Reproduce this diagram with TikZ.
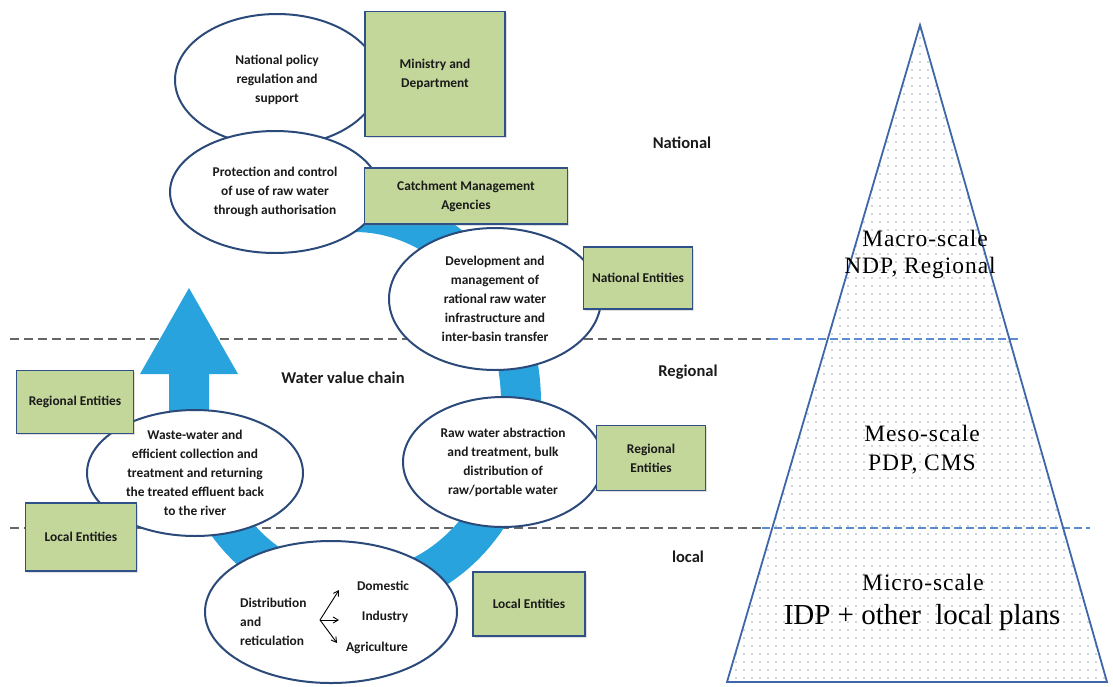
\documentclass[tikz,border=0pt]{standalone}
\usepackage{fontspec}
\setmainfont{Carlito}
\newfontfamily\pyrfont{Liberation Serif}
\newfontfamily\pyrfontwide[LetterSpace=4]{Liberation Serif}
\usetikzlibrary{shapes.geometric,arrows.meta,shadows,patterns}

\definecolor{ringblue}{HTML}{29A3DD}
\definecolor{ellline}{HTML}{2B4A7A}
\definecolor{boxfill}{HTML}{C4D79B}
\definecolor{boxline}{HTML}{2F5088}
\definecolor{dashgray}{HTML}{666666}
\definecolor{pyredge}{HTML}{3E66A8}
\definecolor{pyrdash}{HTML}{5B8BD0}
\definecolor{dotcol}{HTML}{9AA8BA}
\definecolor{inktext}{HTML}{1A1A1A}

% small dot grid for the pyramid
\pgfdeclarepatternformonly{pyrdots}{\pgfqpoint{-1pt}{-1pt}}{\pgfqpoint{1pt}{1pt}}{\pgfqpoint{8pt}{8pt}}{%
  \pgfpathcircle{\pgfqpoint{0pt}{0pt}}{0.8pt}\pgfusepath{fill}}

\begin{document}
\begin{tikzpicture}[x=1pt,y=-1pt,
  stage/.style={ellipse, draw=ellline, line width=2pt, fill=white, inner sep=0pt,
    align=center, text=inktext, font=\bfseries\fontsize{13.4}{19}\selectfont},
  agency/.style={rectangle, draw=boxline, line width=1.7pt, fill=boxfill, inner sep=2pt,
    align=center, text=inktext, font=\bfseries\fontsize{13.4}{19}\selectfont,
    drop shadow={opacity=0.25, shadow xshift=1.5pt, shadow yshift=-1.5pt}},
  levelcap/.style={text=inktext, font=\bfseries\fontsize{16.5}{19}\selectfont},
  plaintext/.style={text=inktext, font=\bfseries\fontsize{13.4}{19}\selectfont, inner sep=0pt},
  scaletext/.style={text=black, font=\pyrfontwide\fontsize{23.5}{26}\selectfont, inner sep=0pt},
  levelline/.style={dashgray, line width=2.4pt, dash pattern=on 9pt off 5pt},
  pyrdashes/.style={pyrdash, line width=1.2pt, dash pattern=on 8pt off 4pt},
  fork/.style={-{Straight Barb[length=5pt,width=6pt]}, line width=0.9pt, black}]

\useasboundingbox (0,0) rectangle (1113,686);
\fill[white] (0,0) rectangle (1113,686);

% level separators on the left
\draw[levelline] (10,339) -- (770,339);
\draw[levelline] (10,528) -- (762,528);

% the water value chain ring ending in the upward arrow
\draw[ringblue, line width=40pt]
  plot[domain=-95:180, samples=120] ({355+166*cos(\x)}, {402+190*sin(\x)}) -- (189,374);
\fill[ringblue] (140,374) -- (238,374) -- (189,288) -- cycle;

% stages of the chain
\node[stage, minimum width=204pt, minimum height=132pt] (policy) at (277,80)
  {National policy\\regulation and\\support};
\node[stage, minimum width=210pt, minimum height=122pt] (protect) at (275,192)
  {Protection and control\\of use of raw water\\through authorisation};
\node[stage, minimum width=212pt, minimum height=142pt] (develop) at (495,299)
  {Development and\\management of\\rational raw water\\infrastructure and\\inter-basin transfer};
\node[stage, minimum width=216pt, minimum height=126pt] (waste) at (195,473)
  {Waste-water and\\efficient collection and\\treatment and returning\\the treated effluent back\\to the river};
\node[stage, minimum width=200pt, minimum height=130pt] (abstract) at (503,462)
  {Raw water abstraction\\and treatment, bulk\\distribution of\\raw/portable water};
\node[stage, minimum width=252pt, minimum height=142pt] (distrib) at (331,612) {};

% contents of the distribution stage
\node[plaintext, align=left, anchor=west] (reticul) at (240,622) {Distribution\\and\\reticulation};
\node[plaintext] (domestic) at (383,586) {Domestic};
\node[plaintext] (industry) at (385,617) {Industry};
\node[plaintext] (agri) at (377,648) {Agriculture};
\coordinate (split) at (320,620);
\coordinate (toDom) at (339,590);
\coordinate (toInd) at (339,620);
\coordinate (toAgr) at (337,643);
\draw[fork] (split) -- (toDom);
\draw[fork] (split) -- (toInd);
\draw[fork] (split) -- (toAgr);

% responsible bodies
\node[agency, minimum width=140pt, minimum height=125pt] (ministry) at (435,74) {Ministry and\\Department};
\node[agency, minimum width=203pt, minimum height=56pt] (cma) at (466,196) {Catchment Management\\Agencies};
\node[agency, minimum width=109pt, minimum height=62pt] (natent) at (638,278) {National Entities};
\node[agency, minimum width=117pt, minimum height=63pt] (regentL) at (75,402) {Regional Entities};
\node[agency, minimum width=111pt, minimum height=68pt] (locentL) at (81,537) {Local Entities};
\node[agency, minimum width=109pt, minimum height=65pt] (regentR) at (651,458) {Regional\\Entities};
\node[agency, minimum width=112pt, minimum height=64pt] (locentR) at (529,604) {Local Entities};

% captions
\node[levelcap] (natl) at (682,143) {National};
\node[levelcap] (regl) at (688,372) {Regional};
\node[levelcap] (locl) at (688,557) {local};
\node[text=inktext, font=\bfseries\fontsize{16.5}{19}\selectfont] (chain) at (343,378) {Water value chain};

% planning pyramid
\fill[white] (920,25) -- (727,682) -- (1107,682) -- cycle;
\fill[pattern=pyrdots, pattern color=dotcol] (920,25) -- (727,682) -- (1107,682) -- cycle;
\draw[pyrdashes] (770,339) -- (1022,339);
\draw[pyrdashes] (762,528) -- (1090,528);
\draw[draw=pyredge, line width=1.8pt, line join=miter] (920,25) -- (727,682) -- (1107,682) -- cycle;

\node[scaletext] (macro) at (925,238) {Macro-scale};
\node[scaletext] (ndp) at (920,268) {NDP, Regional};
\node[scaletext] (meso) at (922,433) {Meso-scale};
\node[scaletext] (pdp) at (922,465) {PDP, CMS};
\node[scaletext] (micro) at (923,582) {Micro-scale};
\node[scaletext, font=\pyrfont\fontsize{29}{32}\selectfont] (idp) at (922,618) {IDP + other\ \ local plans};
\end{tikzpicture}
\end{document}
